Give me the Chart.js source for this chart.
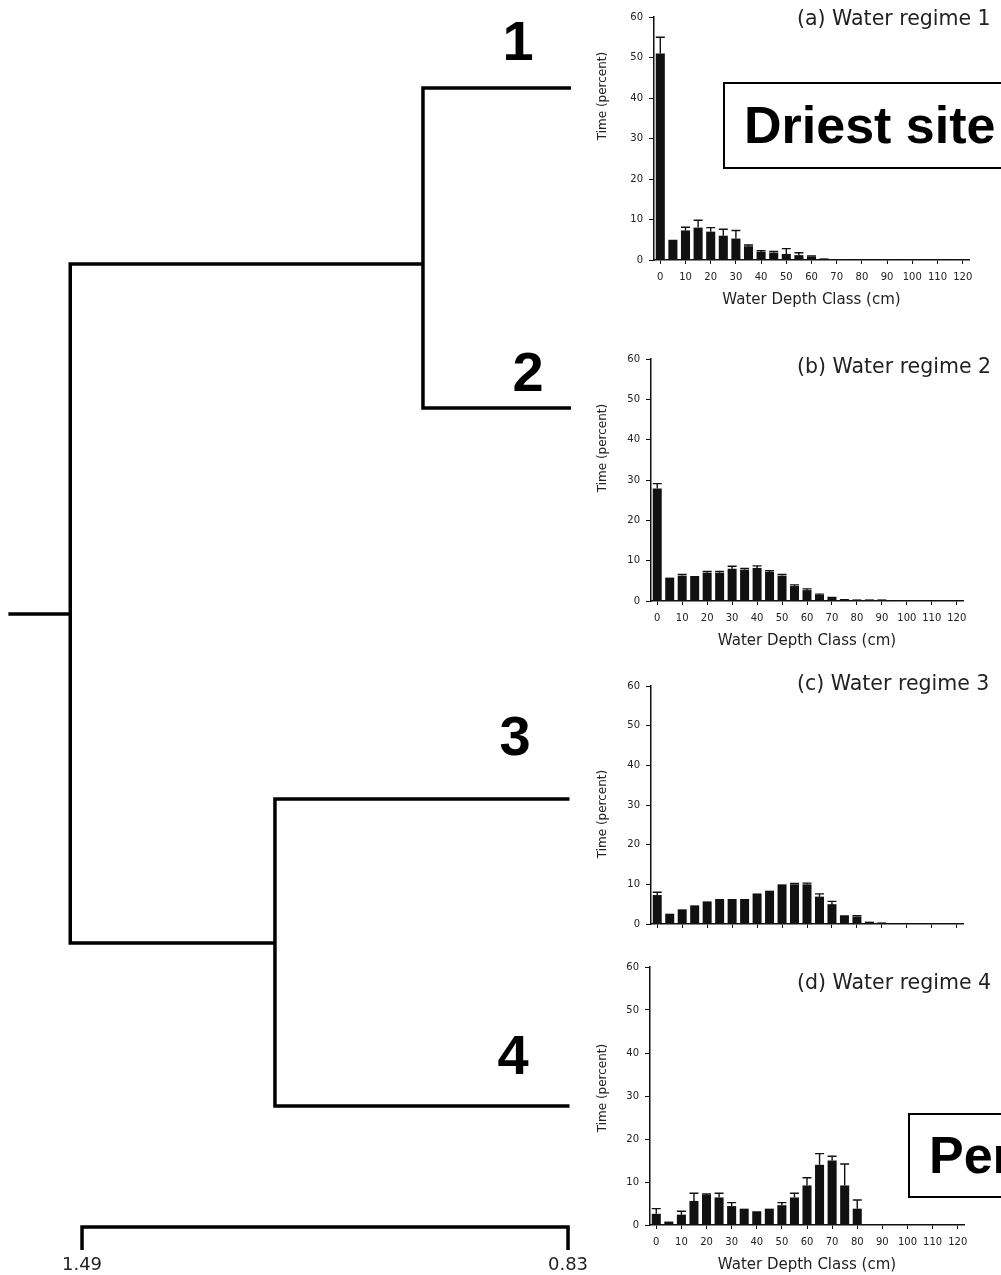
<!DOCTYPE html>
<html>
<head>
<meta charset="utf-8">
<script src="https://cdn.jsdelivr.net/npm/chart.js@4.4.1/dist/chart.umd.min.js"></script>
<style>
  html, body { margin: 0; padding: 0; background: #fff; }
  body { width: 1001px; height: 1275px; position: relative; overflow: hidden; }
  canvas { position: absolute; }
  .num { position: absolute; font-family: "Liberation Sans", Arial, sans-serif; font-weight: bold;
         font-size: 56px; line-height: 1; color: #000; transform: translate(-50%, -50%); }
  .ttl { position: absolute; font-family: "DejaVu Sans", sans-serif; font-size: 20.5px; color: #222;
         white-space: nowrap; line-height: 1; transform: translateY(-50%); }
  .ytl { position: absolute; font-family: "DejaVu Sans", sans-serif; font-size: 12px; color: #222;
         white-space: nowrap; line-height: 1; transform: translate(-50%, -50%) rotate(-90deg); }
  .box { position: absolute; box-sizing: border-box; border: 2.5px solid #000; background: #fff;
         font-family: "Liberation Sans", Arial, sans-serif; font-weight: bold; font-size: 52px;
         white-space: nowrap; padding-left: 19px; width: 400px; }
</style>
</head>
<body>
<canvas id="tree" width="1001" height="1275" style="left:0;top:0"></canvas>
<canvas id="chartA"></canvas>
<canvas id="chartB"></canvas>
<canvas id="chartC"></canvas>
<canvas id="chartD"></canvas>

<div class="num" style="left:518px;top:41px">1</div>
<div class="num" style="left:528px;top:372px">2</div>
<div class="num" style="left:515px;top:736px">3</div>
<div class="num" style="left:513px;top:1055px">4</div>

<div class="ttl" style="left:797px;top:18px">(a) Water regime 1</div>
<div class="ttl" style="left:797px;top:366px">(b) Water regime 2</div>
<div class="ttl" style="left:797px;top:683px">(c) Water regime 3</div>
<div class="ttl" style="left:797px;top:982px">(d) Water regime 4</div>

<div class="ytl" style="left:602px;top:96px">Time (percent)</div>
<div class="ytl" style="left:602px;top:448px">Time (percent)</div>
<div class="ytl" style="left:602px;top:814px">Time (percent)</div>
<div class="ytl" style="left:602px;top:1088px">Time (percent)</div>

<div class="box" style="left:723px;top:82px;height:87px;line-height:82px">Driest site</div>
<div class="box" style="left:908px;top:1113px;height:85px;line-height:80px">Permanent site</div>

<script>
/* global document, Chart */

// Water depth classes (cm)
const depthClasses = [0, 5, 10, 15, 20, 25, 30, 35, 40, 45, 50, 55, 60, 65, 70, 75, 80, 85, 90, 95, 100, 105, 110, 115, 120];

// Time (percent) per class, and upper error bar length
const regime1 = [51, 5, 7.3, 8, 7, 6, 5.3, 3.4, 2, 1.8, 1.5, 1.2, 0.8, 0.4, 0.1, 0.1, 0.1, 0.1, 0.1, 0.1, 0.1, 0.1, 0.1, 0.1, 0.1];
const regime1Err = [4, 0, 0.8, 1.8, 1, 1.6, 2, 0.3, 0.3, 0.3, 1.3, 0.6, 0.2, 0, 0, 0, 0, 0, 0, 0, 0, 0, 0, 0, 0];
const regime2 = [27.9, 5.8, 6.3, 6.2, 7, 7, 8, 7.8, 8.2, 7.2, 6.3, 3.7, 2.7, 1.5, 0.8, 0.5, 0.4, 0.4, 0.4, 0.2, 0.1, 0, 0, 0, 0];
const regime2Err = [1.2, 0, 0.3, 0, 0.3, 0.3, 0.6, 0.3, 0.5, 0.3, 0.3, 0.3, 0.3, 0.2, 0.1, 0, 0, 0, 0, 0, 0, 0, 0, 0, 0];
const regime3 = [7.3, 2.6, 3.7, 4.7, 5.7, 6.3, 6.3, 6.3, 7.7, 8.4, 10, 10, 10, 6.9, 5, 2.2, 1.9, 0.6, 0.4, 0.1, 0, 0, 0, 0, 0];
const regime3Err = [0.7, 0, 0, 0, 0, 0, 0, 0, 0, 0, 0, 0.2, 0.3, 0.7, 0.7, 0, 0.2, 0, 0, 0, 0, 0, 0, 0, 0];
const regime4 = [2.6, 0.8, 2.4, 5.6, 7, 6.4, 4.4, 3.8, 3.2, 3.8, 4.6, 6.4, 9.2, 14, 15, 9.2, 3.8, 0.2, 0.2, 0.1, 0.1, 0.1, 0.1, 0.1, 0.1];
const regime4Err = [1.2, 0, 0.8, 1.8, 0.2, 1, 0.8, 0, 0, 0, 0.6, 1, 1.8, 2.6, 1, 5, 2, 0, 0, 0, 0, 0, 0, 0, 0];

// Dendrogram: leaf rows, clustering distances
const leafRows = [88, 408, 799, 1106];
const leafDist = [0.826, 0.826, 0.828, 0.828];
const mergeDist = [1.027, 1.228, 1.506];   // (1,2), (3,4), root
const mergeRows = [264, 943, 614];
const rootTail = 1.59;
const scaleTicks = [1.49, 0.83];
const scaleBarRow = 1227;
const scaleBarEnd = 1250;

Chart.defaults.animation = false;
Chart.defaults.font.family = "'DejaVu Sans', sans-serif";
Chart.defaults.color = "#222";

const black = "#000";
const ink = "#111";

// ---------- dendrogram ----------
const bracket = (xa, ya, xm, xb, yb) => [
  {x: xa, y: ya}, {x: xm, y: ya}, {x: xm, y: yb}, {x: xb, y: yb}
];
const treePaths = [
  [{x: rootTail, y: mergeRows[2]}, {x: mergeDist[2], y: mergeRows[2]}],
  bracket(mergeDist[0], mergeRows[0], mergeDist[2], mergeDist[1], mergeRows[1]),
  bracket(leafDist[0], leafRows[0], mergeDist[0], leafDist[1], leafRows[1]),
  bracket(leafDist[2], leafRows[2], mergeDist[1], leafDist[3], leafRows[3]),
  [{x: scaleTicks[0], y: scaleBarEnd}, {x: scaleTicks[0], y: scaleBarRow},
   {x: scaleTicks[1], y: scaleBarRow}, {x: scaleTicks[1], y: scaleBarEnd}]
];

new Chart(document.getElementById("tree"), {
  type: "scatter",
  data: {
    datasets: treePaths.map(path => ({
      data: path,
      showLine: true,
      borderColor: black,
      borderWidth: 3.5,
      borderJoinStyle: "miter",
      borderCapStyle: "butt",
      pointRadius: 0,
      clip: false
    }))
  },
  options: {
    responsive: false,
    layout: {padding: 0},
    plugins: {legend: {display: false}, tooltip: {enabled: false}},
    scales: {
      x: {
        type: "linear",
        reverse: true,
        min: 0.242,
        max: 1.6014,
        grid: {display: false, drawTicks: false},
        border: {display: false},
        afterBuildTicks: scale => { scale.ticks = scaleTicks.map(value => ({value})); },
        afterFit: scale => { scale.height = 20; },
        ticks: {
          padding: 0,
          font: {size: 18},
          color: "#222",
          callback: value => value.toFixed(2)
        }
      },
      y: {
        type: "linear",
        reverse: true,
        min: 0,
        max: 1255,
        display: false
      }
    }
  }
});

// ---------- regime bar charts ----------
const errorBars = {
  id: "errorBars",
  afterDatasetsDraw(chart) {
    const {ctx} = chart;
    const yScale = chart.scales.y;
    const ds = chart.data.datasets[0];
    const meta = chart.getDatasetMeta(0);
    ctx.save();
    ctx.strokeStyle = ink;
    ctx.lineWidth = 1.4;
    meta.data.forEach((bar, i) => {
      const err = ds.errors[i];
      if (!err) return;
      const yTop = yScale.getPixelForValue(ds.data[i] + err);
      ctx.beginPath();
      ctx.moveTo(bar.x, bar.y);
      ctx.lineTo(bar.x, yTop);
      ctx.moveTo(bar.x - 4.5, yTop);
      ctx.lineTo(bar.x + 4.5, yTop);
      ctx.stroke();
    });
    ctx.restore();
  }
};

function regimeChart(id, plot, values, errors, showX) {
  const yW = 30, padT = 8, padR = 12, xH = showX ? 53 : 8;
  const cv = document.getElementById(id);
  cv.width = yW + plot.right - plot.left + padR;
  cv.height = padT + plot.bottom - plot.top + xH;
  cv.style.left = (plot.left - yW) + "px";
  cv.style.top = (plot.top - padT) + "px";

  new Chart(cv, {
    type: "bar",
    data: {
      labels: depthClasses,
      datasets: [{
        data: values,
        errors,
        backgroundColor: ink,
        barPercentage: 0.72,
        categoryPercentage: 1
      }]
    },
    plugins: [errorBars],
    options: {
      responsive: false,
      layout: {padding: {top: padT, right: padR, left: 0, bottom: 0}},
      plugins: {legend: {display: false}, tooltip: {enabled: false}},
      scales: {
        x: {
          afterFit: scale => { scale.height = xH; },
          border: {color: ink, width: 1.5},
          grid: {
            drawOnChartArea: false,
            offset: false,
            tickLength: 4,
            color: c => c.index % 2 ? "rgba(0,0,0,0)" : ink
          },
          ticks: {
            display: showX,
            autoSkip: false,
            maxRotation: 0,
            padding: 7,
            font: {size: 10},
            callback: (value, index) => index % 2 ? "" : depthClasses[index]
          },
          title: {
            display: showX,
            text: "Water Depth Class (cm)",
            font: {size: 15},
            padding: {top: 4, bottom: 4}
          }
        },
        y: {
          min: 0,
          max: 60,
          afterFit: scale => { scale.width = yW; },
          border: {color: ink, width: 1.5},
          grid: {drawOnChartArea: false, tickLength: 5, color: ink},
          ticks: {stepSize: 10, padding: 6, font: {size: 10}}
        }
      }
    }
  });
}

regimeChart("chartA", {left: 654, right: 969, top: 13, bottom: 260}, regime1, regime1Err, true);
regimeChart("chartB", {left: 651, right: 963, top: 355, bottom: 601}, regime2, regime2Err, true);
regimeChart("chartC", {left: 651, right: 963, top: 682, bottom: 928}, regime3, regime3Err, false);
regimeChart("chartD", {left: 650, right: 964, top: 963, bottom: 1225}, regime4, regime4Err, true);
</script>
</body>
</html>
